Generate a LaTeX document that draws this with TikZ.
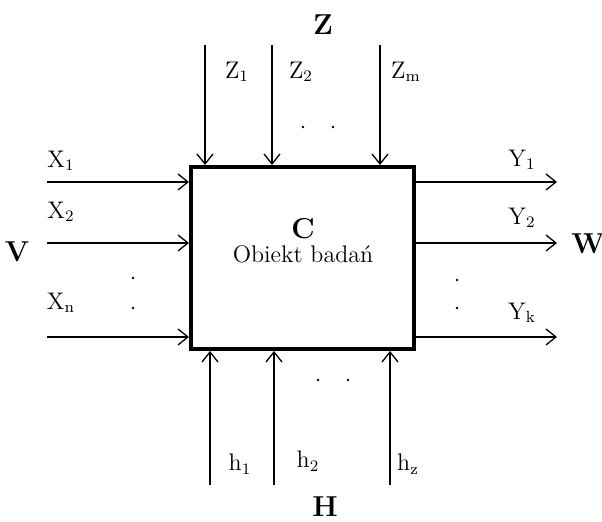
\documentclass[tikz,border=0pt]{standalone}
\usetikzlibrary{arrows.meta}

\begin{document}
\begin{tikzpicture}[x=0.5pt, y=-0.5pt,
  obj/.style={draw, line width=2pt, minimum width=111.5pt, minimum height=91pt,
              inner sep=0pt, align=center},
  arr/.style={-{Straight Barb[length=5pt,width=8pt]}, line width=0.65pt},
  sig/.style={font=\large, inner sep=0pt},
  grp/.style={font=\Large\bfseries, inner sep=0pt},
  pt/.style={circle, fill=black, inner sep=0pt, minimum size=1.4pt},
]
  \useasboundingbox (0,0) rectangle (602,522);

  % ---- Object ----
  \node[obj] (box) at (302.5,258) {};
  \node[font=\Large\bfseries, inner sep=0pt] (c) at (303,229) {C};
  \node[sig] (obj) at (303,254) {Obiekt badań};

  % ---- Inputs X ----
  \coordinate (x1) at (47,182);
  \coordinate (x2) at (47,243);
  \coordinate (xn) at (47,337);
  \node[sig] (lx1) at (61,161) {X$_1$};
  \node[sig] (lx2) at (61,212) {X$_2$};
  \node[sig] (lxn) at (61,303) {X$_{\mathrm{n}}$};
  \node[grp] (v) at (17,252) {V};
  \node[pt] (dx1) at (133,278) {};
  \node[pt] (dx2) at (133,308) {};

  % ---- Outputs Y ----
  \coordinate (y1) at (557,182);
  \coordinate (y2) at (557,243);
  \coordinate (yk) at (557,337);
  \node[sig] (ly1) at (522,160) {Y$_1$};
  \node[sig] (ly2) at (522,218) {Y$_2$};
  \node[sig] (lyk) at (522,313) {Y$_{\mathrm{k}}$};
  \node[grp] (w) at (588,244) {W};
  \node[pt] (dy1) at (457,280) {};
  \node[pt] (dy2) at (457,308) {};

  % ---- Controls Z ----
  \coordinate (z1) at (205,45);
  \coordinate (z2) at (272,45);
  \coordinate (zm) at (380,45);
  \node[sig] (lz1) at (237,72) {Z$_1$};
  \node[sig] (lz2) at (301,72) {Z$_2$};
  \node[sig] (lzm) at (406,72) {Z$_{\mathrm{m}}$};
  \node[grp] (z) at (323,25) {Z};
  \node[pt] (dz1) at (303,127) {};
  \node[pt] (dz2) at (333,127) {};

  % ---- Disturbances h ----
  \coordinate (h1) at (210,485);
  \coordinate (h2) at (274,485);
  \coordinate (hz) at (390,485);
  \node[sig] (lh1) at (240,464) {h$_1$};
  \node[sig] (lh2) at (308,461) {h$_2$};
  \node[sig] (lhz) at (408,464) {h$_{\mathrm{z}}$};
  \node[grp] (h) at (325,507) {H};
  \node[pt] (dh1) at (318,380) {};
  \node[pt] (dh2) at (348,380) {};

  % ---- Arrows ----
  \draw[arr] (x1) -- (x1 -| box.west);
  \draw[arr] (x2) -- (x2 -| box.west);
  \draw[arr] (xn) -- (xn -| box.west);
  \draw[arr] (y1 -| box.east) -- (y1);
  \draw[arr] (y2 -| box.east) -- (y2);
  \draw[arr] (yk -| box.east) -- (yk);
  \draw[arr] (z1) -- (z1 |- box.north);
  \draw[arr] (z2) -- (z2 |- box.north);
  \draw[arr] (zm) -- (zm |- box.north);
  \draw[arr] (h1) -- (h1 |- box.south);
  \draw[arr] (h2) -- (h2 |- box.south);
  \draw[arr] (hz) -- (hz |- box.south);
\end{tikzpicture}
\end{document}
